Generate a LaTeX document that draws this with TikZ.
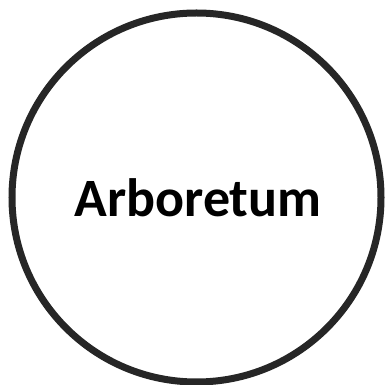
\documentclass[tikz,border=0pt]{standalone}
\usepackage{fontspec}
\setmainfont{Carlito}
\definecolor{ring}{HTML}{262626}
\tikzset{ringstyle/.style={draw=ring, line width=7pt, circle, minimum size=369pt, inner sep=0pt},
  labelstyle/.style={font=\fontsize{54}{60}\selectfont\bfseries, text=black, anchor=base, inner sep=0pt}}
\begin{document}
\begin{tikzpicture}[x=1pt,y=1pt]
\useasboundingbox (0,0) rectangle (384,385);
\node[ringstyle] (ring) at (196.5,187.5) {};
\node[labelstyle] (label) at (198,168) {Arboretum};
\end{tikzpicture}
\end{document}
